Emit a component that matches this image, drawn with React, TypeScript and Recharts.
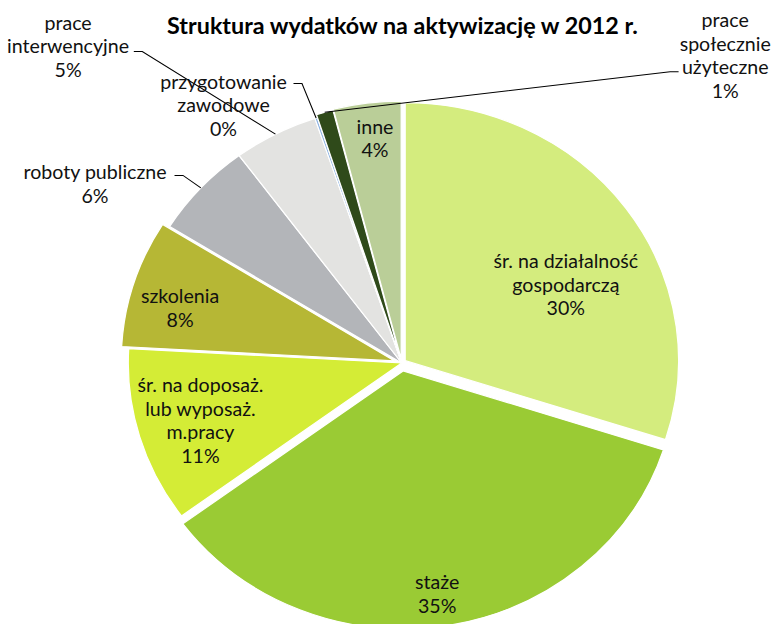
import React from 'react';
import { PieChart, Pie, Cell, Sector } from 'recharts';

// Struktura wydatków na aktywizację w 2012 r. (udział w %)
const categories = [
  'śr. na działalność\ngospodarczą',
  'staże',
  'śr. na doposaż.\nlub wyposaż.\nm.pracy',
  'szkolenia',
  'roboty publiczne',
  'prace\ninterwencyjne',
  'przygotowanie\nzawodowe',
  'prace\nspołecznie\nużyteczne',
  'inne',
];
const shares = [30, 35, 11, 8, 6, 5, 0.15, 1, 4];

const colors = [
  '#D4EC7E',
  '#9ACB34',
  '#D4EC36',
  '#B6B735',
  '#B3B5B9',
  '#E3E3E1',
  '#8EB4E3',
  '#2F4A1A',
  '#BACE98',
];

// how far each slice is pulled out of the pie (px)
const explode = [4, 8, 0, 7, 0, 0, 0, 3, 4];

// label placement: distance from centre (x outer radius) and shift from slice middle (deg, clockwise)
const labelRadius = [0.674, 0.902, 0.768, 0.839, 1.32, 1.733, 1.195, 1.681, 0.879];
const labelShift = [9, 1, 0, -2.6, -10.9, -17.25, -14.8, 60.9, 0.8];
// where leader lines leave outside labels, relative to the label centre
const leaderFrom: ([number, number] | null)[] = [
  null,
  null,
  null,
  null,
  [75, -8],
  [62, 6],
  [66, -21],
  [-44, 17],
  null,
];

const chartData = categories.map((name, i) => ({ name, value: shares[i] }));

const STRETCH = 1.06;
const WIDTH = 773;
const HEIGHT = 624;
const FONT = 'Lato, "Open Sans", sans-serif';
const LINE = 23.5;
const RADIAN = Math.PI / 180;

const ExplodedSector = (props: any) => {
  const idx = categories.indexOf(props.name ?? props.payload?.name);
  const off = explode[idx] ?? 0;
  const a = props.midAngle * RADIAN;
  return (
    <Sector
      {...props}
      cx={props.cx + off * Math.cos(a)}
      cy={props.cy - off * Math.sin(a)}
    />
  );
};

const SliceLabel = (props: any) => {
  const { cx, cy, midAngle, outerRadius, index, value, name } = props;
  const lines = String(name).split('\n');
  lines.push(`${Math.round(value)}%`);

  const theta = (90 - midAngle + labelShift[index]) * RADIAN;
  const r = outerRadius * labelRadius[index];
  const x = cx + r * Math.sin(theta);
  const y = cy - r * Math.cos(theta);
  const top = y - ((lines.length - 1) * LINE) / 2;

  const hook = leaderFrom[index];
  let leader = null;
  if (hook) {
    const a = midAngle * RADIAN;
    const off = explode[index];
    const ex = cx + (outerRadius + off) * Math.cos(a);
    const ey = cy - (outerRadius + off) * Math.sin(a);
    const hx = x + hook[0];
    const hy = y + hook[1];
    const elbow = hx + (hook[0] > 0 ? 8 : -8);
    leader = (
      <polyline
        points={`${hx},${hy} ${elbow},${hy} ${ex},${ey}`}
        fill='none'
        stroke='#000'
        strokeWidth={1}
      />
    );
  }

  return (
    <g>
      {leader}
      <text
        x={x}
        y={top}
        fill='#111'
        textAnchor='middle'
        dominantBaseline='central'
        style={{ fontFamily: FONT, fontSize: 18.5 }}
      >
        {lines.map((line, i) => (
          <tspan key={i} x={x} y={top + i * LINE}>
            {line}
          </tspan>
        ))}
      </text>
    </g>
  );
};

export default function App() {
  return (
    <div
      style={{
        position: 'absolute',
        left: 0,
        top: 0,
        width: WIDTH,
        height: HEIGHT,
        overflow: 'hidden',
        background: '#fff',
      }}
    >
      <div
        style={{
          position: 'relative',
          width: WIDTH / STRETCH,
          height: HEIGHT,
          transform: `scaleX(${STRETCH})`,
          transformOrigin: '0 0',
        }}
      >
        <div
          style={{
            position: 'absolute',
            left: 0,
            top: 13,
            width: 759.4,
            textAlign: 'center',
            fontFamily: FONT,
            fontWeight: 700,
            fontSize: 22,
            lineHeight: '26px',
            color: '#000',
          }}
        >
          Struktura wydatków na aktywizację w 2012 r.
        </div>
        <PieChart
          width={WIDTH / STRETCH}
          height={HEIGHT}
          margin={{ top: 0, right: 0, bottom: 0, left: 0 }}
        >
          <Pie
            data={chartData}
            dataKey='value'
            nameKey='name'
            cx={379}
            cy={363}
            outerRadius={258}
            startAngle={90}
            endAngle={-270}
            stroke='#fff'
            strokeWidth={1.2}
            shape={ExplodedSector}
            label={SliceLabel}
            labelLine={false}
            isAnimationActive={false}
          >
            {chartData.map((entry, index) => (
              <Cell key={`cell-${index}`} fill={colors[index]} />
            ))}
          </Pie>
        </PieChart>
      </div>
    </div>
  );
}
